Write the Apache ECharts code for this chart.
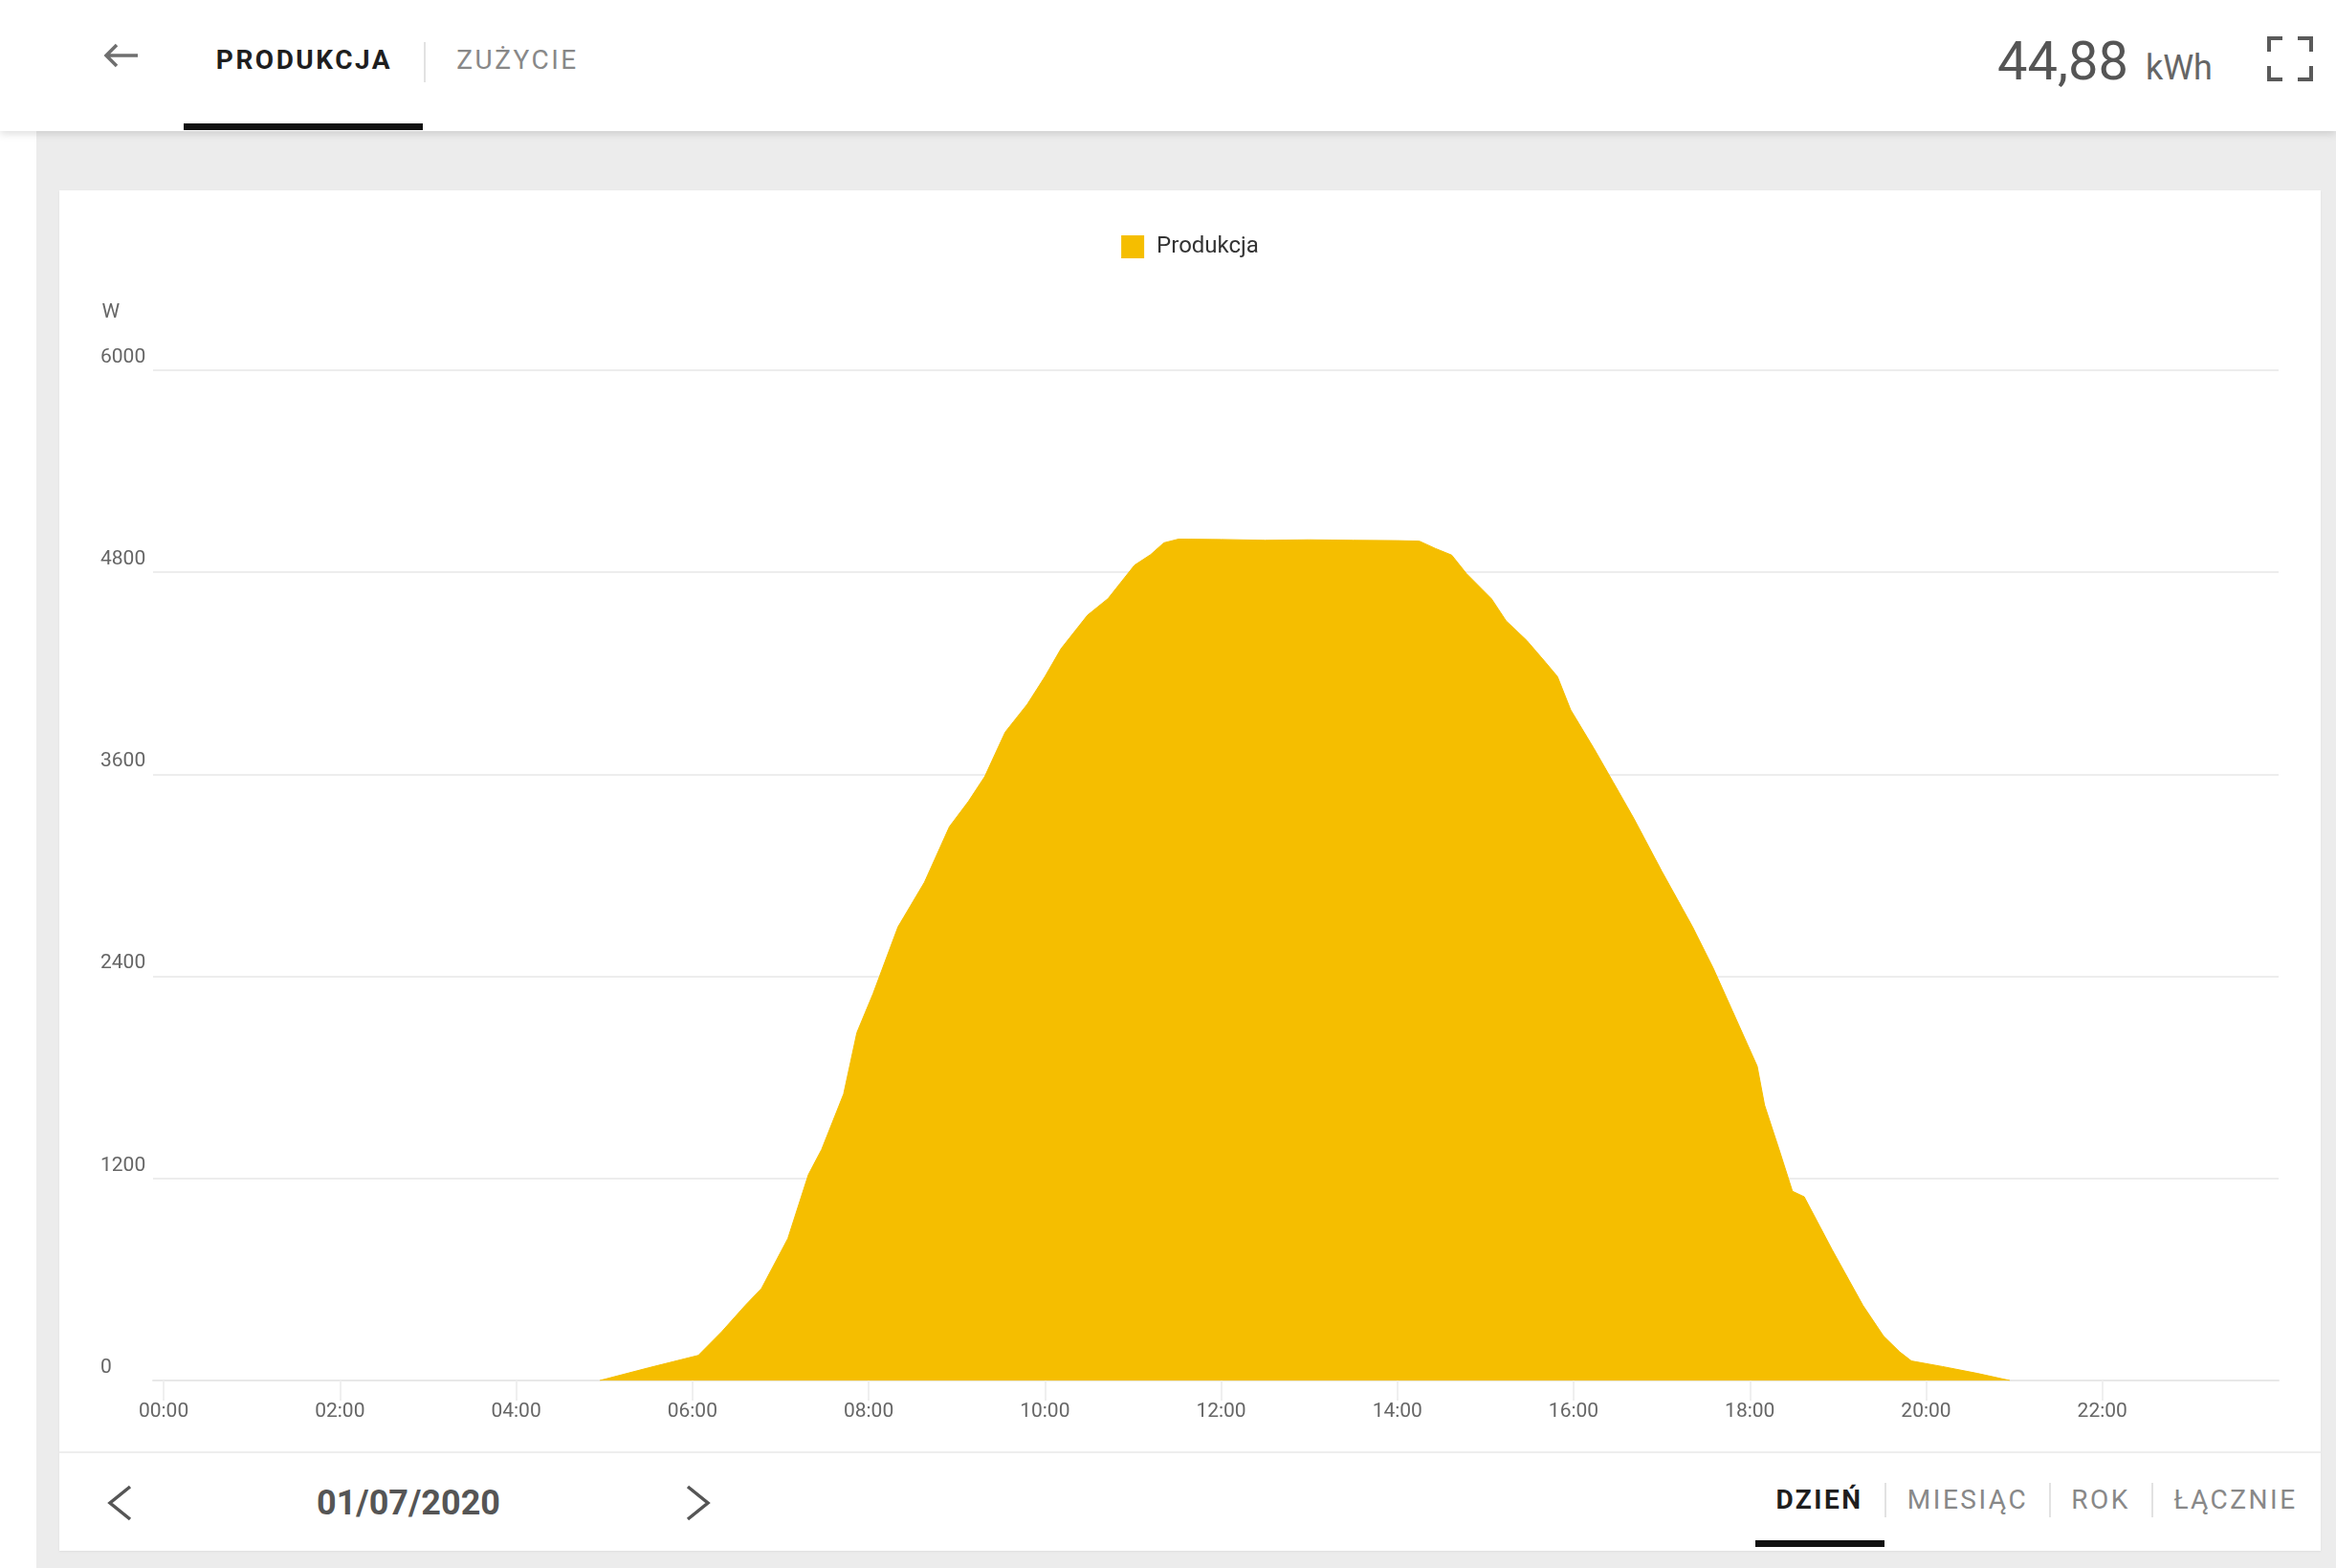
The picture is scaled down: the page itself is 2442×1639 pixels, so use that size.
<!DOCTYPE html>
<html lang="pl">
<head>
<meta charset="utf-8">
<title>Produkcja</title>
<script src="https://cdn.jsdelivr.net/npm/echarts@6/dist/echarts.min.js"></script>
<style>
  html, body { margin: 0; padding: 0; }
  body { width: 2442px; height: 1639px; position: relative; overflow: hidden; background: #fff; font-family: Roboto, "Noto Sans", sans-serif; }
  .page-bg { position: absolute; left: 38px; top: 137px; right: 0; bottom: 0; background: #ececec; }
  .header { position: absolute; left: 0; top: 0; width: 2442px; height: 137px; background: #fff; box-shadow: 0 3px 8px rgba(0,0,0,0.13); }
  .panel { position: absolute; left: 62px; top: 199px; width: 2364px; height: 1422px; background: #fff; box-shadow: 0 1px 2px rgba(0,0,0,0.06); }
  .sep-h { position: absolute; left: 0; top: 1318px; width: 2364px; height: 2px; background: #eeeeee; }
  #chart { position: absolute; left: 0; top: 0; width: 2364px; height: 1318px; }
  .t { position: absolute; transform: translate(-50%, -50%); white-space: nowrap; line-height: 1; }
  .tab { font-size: 28px; letter-spacing: 2.5px; color: #888; }
  .tab.on { font-weight: 700; color: #1e1e1e; }
  .vsep { position: absolute; width: 2px; background: #e2e2e2; }
  .bar { position: absolute; height: 7px; background: #111; }
  svg { position: absolute; overflow: visible; }
</style>
</head>
<body>
<div class="page-bg"></div>
<div class="header">
  <svg style="left:109px;top:46px" width="36" height="24" viewBox="0 0 36 24">
    <path d="M35 12 H2 M13 1 L2 12 L13 23" fill="none" stroke="#6f6f6f" stroke-width="3.5"/>
  </svg>
  <div class="t tab on" style="left:318px;top:63px">PRODUKCJA</div>
  <div class="vsep" style="left:443px;top:44px;height:42px"></div>
  <div class="t tab" style="left:541px;top:63px">ZUŻYCIE</div>
  <div class="bar" style="left:192px;top:129px;width:250px"></div>
  <div style="position:absolute;left:2088px;top:36px;white-space:nowrap;line-height:56px;color:#555">
    <span style="font-size:56px">44,88</span><span style="font-size:36px;color:#666;margin-left:18px">kWh</span>
  </div>
  <svg style="left:2370px;top:38px" width="48" height="47" viewBox="0 0 48 47">
    <path d="M2 16 V2 H16 M32 2 H46 V16 M46 31 V45 H32 M16 45 H2 V31" fill="none" stroke="#5a5a5a" stroke-width="4"/>
  </svg>
</div>
<div class="panel">
  <div id="chart"></div>
  <div class="sep-h"></div>
  <svg style="left:50px;top:1353px" width="26" height="38" viewBox="0 0 26 38">
    <path d="M24 2 L3 19 L24 36" fill="none" stroke="#555" stroke-width="3.5"/>
  </svg>
  <div class="t" style="left:365px;top:1372px;font-size:36px;font-weight:700;color:#555">01/07/2020</div>
  <svg style="left:655px;top:1353px" width="26" height="38" viewBox="0 0 26 38">
    <path d="M2 2 L23 19 L2 36" fill="none" stroke="#555" stroke-width="3.5"/>
  </svg>
  <div class="t tab on" style="left:1840px;top:1369px">DZIEŃ</div>
  <div class="vsep" style="left:1908px;top:1351px;height:36px"></div>
  <div class="t tab" style="left:1995px;top:1369px">MIESIĄC</div>
  <div class="vsep" style="left:2080px;top:1351px;height:36px"></div>
  <div class="t tab" style="left:2134px;top:1369px">ROK</div>
  <div class="vsep" style="left:2187px;top:1351px;height:36px"></div>
  <div class="t tab" style="left:2275px;top:1369px">ŁĄCZNIE</div>
  <div class="bar" style="left:1773px;top:1411px;width:135px"></div>
</div>

<script>
// Hour tick labels along the time axis
const hourLabels = ['00:00', '02:00', '04:00', '06:00', '08:00', '10:00', '12:00', '14:00', '16:00', '18:00', '20:00', '22:00'];
// Power axis ticks (W)
const powerTicks = [0, 1200, 2400, 3600, 4800, 6000];
// Sample timestamps for 01/07/2020
const sampleTimes = [
  '04:57', '05:30', '06:04', '06:20', '06:36', '06:47', '07:05', '07:19', '07:28', '07:43', '07:52',
  '08:03', '08:20', '08:38', '08:55', '09:08', '09:19', '09:33', '09:48', '10:00', '10:11', '10:29',
  '10:43', '11:01', '11:12', '11:21', '11:31', '12:00', '12:30', '13:00', '13:30', '14:00', '14:15',
  '14:26', '14:37', '14:47', '15:04', '15:14', '15:28', '15:41', '15:49', '15:58', '16:14', '16:27',
  '16:41', '17:00', '17:21', '17:35', '17:48', '18:05', '18:10', '18:20', '18:29', '18:37', '18:56',
  '19:17', '19:31', '19:42', '19:50', '20:11', '20:35', '20:57'
];
// Produced power at each sample (W)
const powerW = [
  0, 75, 149, 290, 446, 546, 843, 1223, 1372, 1702, 2066,
  2297, 2694, 2959, 3289, 3440, 3586, 3851, 4016, 4180, 4346, 4545,
  4644, 4842, 4905, 4975, 4997, 4995, 4990, 4993, 4990, 4988, 4985,
  4941, 4902, 4793, 4644, 4512, 4396, 4264, 4181, 3983, 3751, 3553,
  3338, 3025, 2694, 2450, 2198, 1867, 1636, 1370, 1124, 1091, 777,
  446, 264, 170, 116, 83, 42, 0
];

const toHours = s => { const p = s.split(':'); return +p[0] + +p[1] / 60; };
const fmtHour = v => { const h = Math.floor(v + 1e-6), m = Math.round((v - h) * 60); return String(h).padStart(2, '0') + ':' + String(m).padStart(2, '0'); };

const chart = echarts.init(document.getElementById('chart'), null, { renderer: 'canvas' });
const tickHours = hourLabels.map(toHours);

chart.setOption({
  animation: false,
  textStyle: { fontFamily: 'Roboto, "Noto Sans", sans-serif' },
  legend: {
    top: 42,
    left: 'center',
    icon: 'rect',
    itemWidth: 24,
    itemHeight: 24,
    textStyle: { fontSize: 24, color: '#333', padding: [0, 0, 0, 8] },
    data: ['Produkcja']
  },
  grid: { left: 98, right: 44, top: 188, bottom: 74, containLabel: false },
  xAxis: {
    type: 'value',
    min: -0.12,
    max: 24,
    axisLine: { show: true, lineStyle: { color: '#e8e8e8', width: 2 } },
    axisTick: { show: true, customValues: tickHours, length: 21, lineStyle: { color: '#efefef', width: 2 } },
    axisLabel: { customValues: tickHours, formatter: v => fmtHour(v), fontSize: 21, color: '#666', margin: 22 },
    splitLine: { show: false }
  },
  yAxis: {
    type: 'value',
    min: powerTicks[0],
    max: powerTicks[powerTicks.length - 1],
    interval: powerTicks[1] - powerTicks[0],
    name: 'W',
    nameLocation: 'end',
    nameGap: 50,
    nameTextStyle: { fontSize: 21, color: '#666', align: 'right', padding: [0, 46, 0, 0] },
    axisLine: { show: false },
    axisTick: { show: false },
    axisLabel: { fontSize: 21, color: '#666', align: 'left', verticalAlign: 'bottom', margin: 55, padding: [0, 0, 3, 0], formatter: v => String(v) },
    splitLine: { lineStyle: { color: '#ededed', width: 2 } }
  },
  series: [{
    name: 'Produkcja',
    type: 'line',
    data: sampleTimes.map((t, i) => [toHours(t), powerW[i]]),
    showSymbol: false,
    symbol: 'none',
    itemStyle: { color: '#F5BE00' },
    lineStyle: { color: '#F5BE00', width: 1 },
    areaStyle: { color: '#F5BE00', opacity: 1 }
  }]
});
</script>
</body>
</html>
